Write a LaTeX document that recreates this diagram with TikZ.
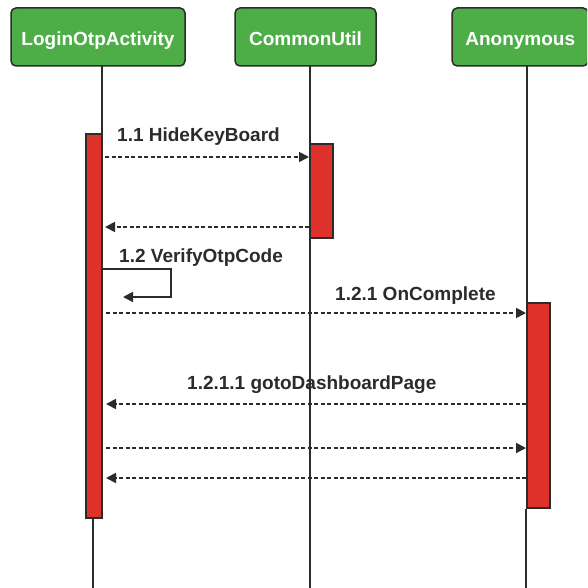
\documentclass[tikz,border=0pt]{standalone}
\usepackage{fontspec}
\setmainfont{Liberation Sans}
\usetikzlibrary{arrows.meta}
\definecolor{boxgreen}{HTML}{4DAE47}
\definecolor{actred}{HTML}{DD3129}
\definecolor{ink}{HTML}{2B2B2B}
\tikzset{
  head/.style={draw=ink, line width=1.5pt, fill=boxgreen, rounded corners=5pt,
    text=white, font=\bfseries\fontsize{19}{22}\selectfont,
    minimum height=58pt, inner sep=0pt, text depth=0pt, text height=17pt},
  life/.style={draw=ink, line width=1.3pt},
  actbar/.style={draw=ink, line width=1.2pt, fill=actred, inner sep=0pt},
  msg/.style={draw=ink, line width=1.8pt, dash pattern=on 4pt off 2.5pt,
    -{Triangle[length=10pt,width=10pt]}},
  selfmsg/.style={draw=ink, line width=1.8pt, -{Triangle[length=10pt,width=10pt]}},
  lbl/.style={font=\bfseries\fontsize{19}{22}\selectfont, text=ink,
    inner sep=0pt, anchor=base west}
}
\begin{document}
\begin{tikzpicture}[x=1pt, y=-1pt]
  \useasboundingbox (0,0) rectangle (587,588);
  \clip (0,0) rectangle (587,588);
  \fill[white] (0,0) rectangle (587,588);

  % participants
  \node[head, minimum width=174pt] (login) at (98,37) {LoginOtpActivity};
  \node[head, minimum width=141pt] (util)  at (305.5,37) {CommonUtil};
  \node[head, minimum width=136pt] (anon)  at (520.2,37) {Anonymous};

  % lifeline ends
  \coordinate (loginTop) at (102,66);
  \coordinate (loginEnd) at (93,588);
  \coordinate (utilTop)  at (310,66);
  \coordinate (utilEnd)  at (310,588);
  \coordinate (anonTop)  at (527,66);
  \coordinate (anonEnd)  at (526,588);

  % activation bars
  \node[actbar, minimum width=16pt, minimum height=384pt] (lbar) at (94,326) {};
  \node[actbar, minimum width=23pt, minimum height=94pt]  (cbar) at (321.5,191) {};
  \node[actbar, minimum width=23pt, minimum height=205pt] (abar) at (538.5,405.5) {};

  % lifelines
  \draw[life] (loginTop) -- (loginTop |- lbar.north);
  \draw[life] (loginEnd |- lbar.south) -- (loginEnd);
  \draw[life] (utilTop) -- (utilEnd);
  \draw[life] (anonTop) -- (anonTop |- abar.north);
  \draw[life] (anonEnd |- abar.south) -- (anonEnd);

  % redraw bars above the lifelines
  \node[actbar, minimum width=16pt, minimum height=384pt] at (lbar) {};
  \node[actbar, minimum width=23pt, minimum height=94pt]  at (cbar) {};
  \node[actbar, minimum width=23pt, minimum height=205pt] at (abar) {};

  % message end points
  \coordinate (m1s) at (105,157);  \coordinate (m1e) at (309,157);
  \coordinate (r1s) at (309,227);  \coordinate (r1e) at (105,227);
  \coordinate (s1a) at (102,269);  \coordinate (s1b) at (171,269);
  \coordinate (s1c) at (171,297);  \coordinate (s1d) at (123,297);
  \coordinate (m2s) at (106,313);  \coordinate (m2e) at (526,313);
  \coordinate (m3s) at (526,404);  \coordinate (m3e) at (106,404);
  \coordinate (m4s) at (106,448);  \coordinate (m4e) at (526,448);
  \coordinate (m5s) at (526,478);  \coordinate (m5e) at (106,478);

  % messages
  \draw[msg] (m1s) -- (m1e);
  \draw[msg] (r1s) -- (r1e);
  \draw[selfmsg] (s1a) -- (s1b) -- (s1c) -- (s1d);
  \draw[msg] (m2s) -- (m2e);
  \draw[msg] (m3s) -- (m3e);
  \draw[msg] (m4s) -- (m4e);
  \draw[msg] (m5s) -- (m5e);

  % message labels
  \node[lbl] (l1)   at (117,142) {1.1 HideKeyBoard};
  \node[lbl] (l2)   at (119,262) {1.2 VerifyOtpCode};
  \node[lbl] (l21)  at (335,300) {1.2.1 OnComplete};
  \node[lbl] (l211) at (187,389) {1.2.1.1 gotoDashboardPage};
\end{tikzpicture}
\end{document}
